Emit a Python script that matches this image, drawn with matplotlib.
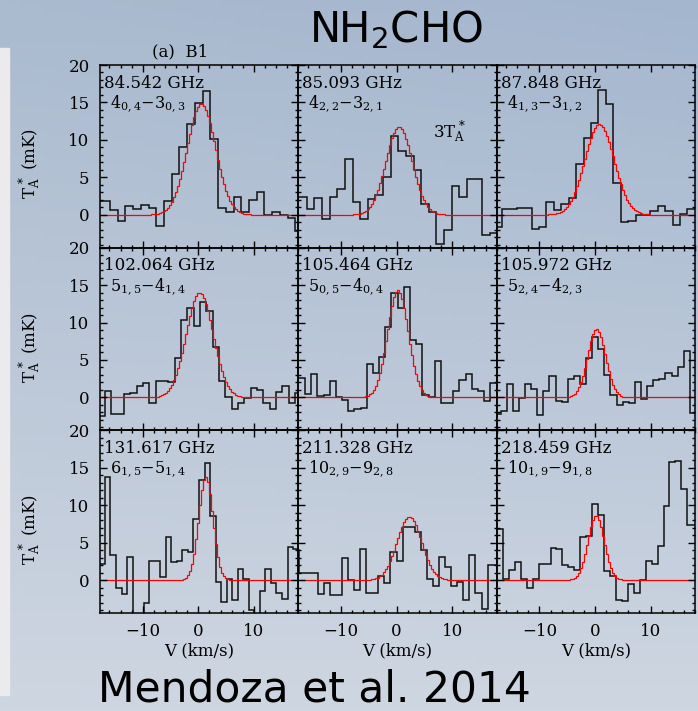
import numpy as np
import matplotlib.pyplot as plt
from matplotlib.patches import Rectangle
from matplotlib.ticker import MultipleLocator

plt.rcParams['font.family'] = 'DejaVu Serif'
plt.rcParams['mathtext.fontset'] = 'dejavuserif'

# line identification for each panel (row by row)
freqs = ['84.542 GHz', '85.093 GHz', '87.848 GHz',
         '102.064 GHz', '105.464 GHz', '105.972 GHz',
         '131.617 GHz', '211.328 GHz', '218.459 GHz']
transitions = [r'$4_{0,4}{-}3_{0,3}$', r'$4_{2,2}{-}3_{2,1}$', r'$4_{1,3}{-}3_{1,2}$',
               r'$5_{1,5}{-}4_{1,4}$', r'$5_{0,5}{-}4_{0,4}$', r'$5_{2,4}{-}4_{2,3}$',
               r'$6_{1,5}{-}5_{1,4}$', r'$10_{2,9}{-}9_{2,8}$', r'$10_{1,9}{-}9_{1,8}$']

# spectra: left edge of the first channel and channel width (km/s)
chan_start = [-18.68, -18.93, -18.09, -17.96, -18.71, -18.10, -17.81, -18.60, -18.72]
chan_width = [1.39, 1.373, 1.336, 1.141, 1.111, 1.099, 0.996, 1.093, 1.071]

# T_A* (mK) per channel
t_84542 = [1.8, 1.8, 0.6, -0.9, 1.2, 0.8, 1.3, 0.9, -1.5, 1.9, 5.5, 9.0, 12.1, 14.9,
           16.5, 10.1, 0.9, 0.3, 2.4, 0.3, 2.0, 3.1, 0.0, 0.3, 0.0, -0.5, -2.2]
t_85093 = [2.4, 2.4, 0.7, 2.2, -0.6, 2.4, 3.4, 7.5, 1.7, -0.6, 2.1, 2.6, 5.0, 10.5,
           8.5, 7.9, 6.0, 1.4, 0.3, -3.9, -2.1, 3.9, 2.4, 4.8, 4.8, -2.7, -2.4]
t_87848 = [-1.6, 0.8, 0.7, 0.9, 0.9, -1.9, -1.7, 1.7, 0.6, 1.4, 2.3, 6.8, 10.2, 12.3,
           16.7, 14.8, 4.3, -1.0, -0.8, 0.0, 0.0, 0.45, 1.1, 0.45, -1.4, 0.1, 0.7, 0.7]
t_102064 = [-2.5, 0.9, -2.2, -2.2, 0.4, 0.6, 1.5, 1.9, -0.75, 2.2, 2.2, 2.1, 5.3, 10.4,
            11.9, 9.5, 12.7, 11.6, 6.75, 2.25, 0.1, -1.5, -0.75, -0.1, 1.2, 1.0, -0.75,
            -1.5, 0.7, 1.5, -0.7, 0.6]
t_105464 = [2.6, 2.6, 0.5, 3.1, 0.25, 0.35, 2.2, 0.1, -0.3, -1.85, -1.5, -1.4, 4.5, 3.3,
            5.4, 9.4, 14.0, 12.0, 14.8, 7.6, 7.1, 0.35, 0.1, 4.9, -0.75, -0.75, 0.8, 2.3,
            3.1, 1.15, 0.8, -0.5, 1.9, 1.9]
t_105972 = [-2.2, -1.85, 1.8, -1.85, -0.1, 1.8, 1.1, -2.3, 0.9, 2.8, -0.5, -0.65, 2.5,
            2.8, 1.8, 5.2, 8.1, 6.5, 3.0, 0.35, -1.05, -0.65, -0.75, 2.0, -0.2, 1.55, 2.35,
            2.4, 3.3, 2.8, 4.1, 6.2, -2.1]
t_131617 = [2.2, 13.7, 3.3, -1.05, -1.9, 3.1, -5.5, -5.5, -3.0, 2.5, 2.6, 0.4, 5.7, 2.4,
            2.5, 4.0, 3.7, 8.2, 13.3, 15.6, 8.6, -0.25, -2.9, 0.2, -2.7, 1.5, 0.2, -4.0,
            -5.0, -1.4, 1.5, -0.4, -1.7, -2.5, 4.4, 4.2]
t_211328 = [4.0, 0.9, 1.0, 1.0, -1.8, -0.4, -2.0, -2.0, 2.9, 0.0, -1.3, 4.2, -1.7, -1.7,
            0.6, -0.4, 3.7, 2.6, 7.1, 7.1, 6.4, 4.0, 0.2, -0.85, 3.1, 1.7, -0.8, -0.2,
            -2.7, 3.4, -1.7, -3.8, 2.0, 2.0]
t_218459 = [6.8, 6.8, 0.1, 1.3, 2.4, 0.1, -1.05, 0.1, 2.1, 2.1, 4.3, 4.2, 2.0, 1.7, 1.3,
            5.7, 5.9, 10.2, 8.7, 1.15, 0.6, -2.6, -2.8, -0.5, -1.7, 0.0, 2.5, 2.2, 4.5,
            9.9, 15.8, 15.9, 12.2, 7.4, 7.4]
spectra = [t_84542, t_85093, t_87848, t_102064, t_105464, t_105972,
           t_131617, t_211328, t_218459]

# Gaussian fits: peak (mK), centre velocity (km/s), FWHM (km/s)
fit_peak = [14.8, 11.7, 12.1, 14.0, 14.3, 9.1, 13.8, 8.5, 8.6]
fit_vlsr = [0.5, 0.45, 0.7, 0.2, 0.25, 0.2, 1.3, 2.3, 0.1]
fit_fwhm = [6.0, 5.6, 6.2, 5.7, 4.4, 3.8, 3.0, 5.2, 3.45]

XLIM = (-17.7, 18.0)
YLIM = (-4.4, 20.0)
W, H = 698, 711
FS = 12

fig = plt.figure(figsize=(W / 100, H / 100), dpi=100)

# slide background
bg = fig.add_axes([0, 0, 1, 1], zorder=-10)
yy, xx = np.mgrid[0:1:200j, 0:1:200j]
top = np.array([170, 186, 207]) / 255
bot = np.array([206, 214, 225]) / 255
grad = top[None, None, :] * (1 - yy[..., None]) + bot[None, None, :] * yy[..., None]
grad = grad - 0.025 * (xx[..., None] * (1 - yy[..., None])) * np.array([1, 0.6, 0.1])
bg.imshow(np.clip(grad, 0, 1), extent=[0, 1, 0, 1], aspect='auto', origin='upper')
bg.add_patch(Rectangle((0, 1 - 695 / H), 9 / W, (695 - 48) / H, color='#ebebed'))
bg.set_xlim(0, 1)
bg.set_ylim(0, 1)
bg.axis('off')

gs = fig.add_gridspec(3, 3, left=100 / W, right=695 / W, top=1 - 65 / H,
                      bottom=1 - 613 / H, hspace=0, wspace=0)

axes = []
for i in range(9):
    row, col = divmod(i, 3)
    ax = fig.add_subplot(gs[row, col])
    ax.set_facecolor('none')
    axes.append(ax)

    vals = np.asarray(spectra[i])
    edges = chan_start[i] + chan_width[i] * np.arange(len(vals) + 1)
    ax.stairs(vals, edges, baseline=None, color='#111111', lw=1.1)

    # fitted profile on a finer velocity grid
    fine = np.arange(XLIM[0] - 0.2, XLIM[1] + 0.4, 0.36)
    mid = 0.5 * (fine[:-1] + fine[1:])
    sig = fit_fwhm[i] / (2 * np.sqrt(2 * np.log(2)))
    model = fit_peak[i] * np.exp(-0.5 * ((mid - fit_vlsr[i]) / sig) ** 2)
    ax.stairs(model, fine, baseline=None, color='red', lw=0.9)

    ax.set_xlim(*XLIM)
    ax.set_ylim(*YLIM)
    ax.xaxis.set_major_locator(MultipleLocator(10))
    ax.xaxis.set_minor_locator(MultipleLocator(2))
    ax.yaxis.set_major_locator(MultipleLocator(5))
    ax.yaxis.set_minor_locator(MultipleLocator(1))
    ax.tick_params(which='both', direction='in', top=True, right=True,
                   width=1.0, labelsize=FS)
    ax.tick_params(which='major', length=5)
    ax.tick_params(which='minor', length=2.5)
    ax.tick_params(axis='x', pad=7.5)
    ax.tick_params(axis='y', pad=7.5)
    for s in ax.spines.values():
        s.set_linewidth(1.1)

    if col != 0:
        ax.tick_params(labelleft=False)
    if row != 2:
        ax.tick_params(labelbottom=False)
    else:
        ax.text(0.5, -0.205, 'V (km/s)', transform=ax.transAxes, ha='center',
                va='center', fontsize=FS)

    ax.text(0.02, 0.90, freqs[i], transform=ax.transAxes, ha='left', va='center',
            fontsize=FS)
    ax.text(0.05, 0.785, transitions[i], transform=ax.transAxes, ha='left',
            va='center', fontsize=11.5)

axes[0].text(0.26, 1.07, '(a)  B1', transform=axes[0].transAxes, ha='left',
             va='center', fontsize=FS)
axes[1].text(0.68, 0.635, r'$\mathrm{3T}_{\mathrm{A}}^{\,*}$', transform=axes[1].transAxes,
             ha='left', va='center', fontsize=FS)

for yc in (164, 348, 530):
    fig.text(30 / W, 1 - yc / H, r'$\mathrm{T}_{\mathrm{A}}^{\,*}$ (mK)', rotation=90,
             ha='center', va='center', fontsize=FS)

fig.text(396 / W, 1 - 42 / H, r'NH$_\mathsf{2}$CHO', family='DejaVu Sans',
         fontsize=30, ha='center', va='baseline')
fig.text(98 / W, 1 - 701 / H, 'Mendoza et al. 2014', family='DejaVu Sans',
         fontsize=30.5, ha='left', va='baseline')

fig.savefig('out.png', dpi=100)
